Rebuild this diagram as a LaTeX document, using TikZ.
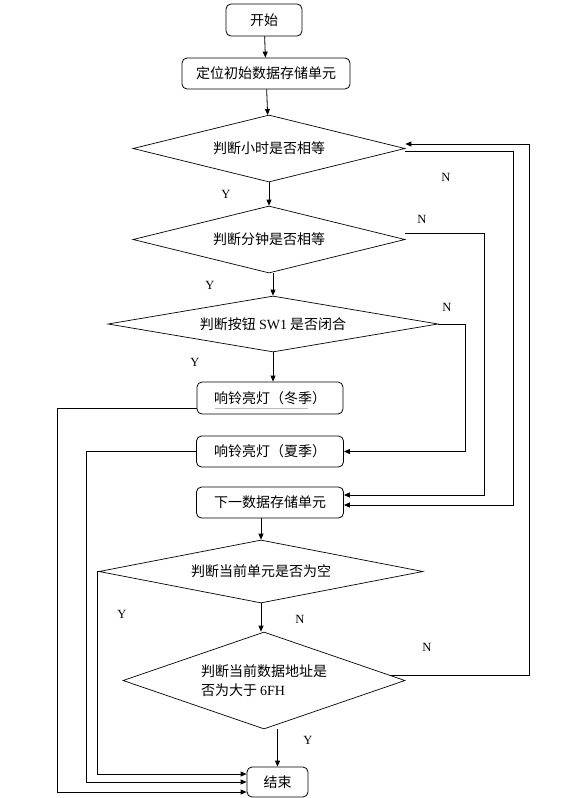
\documentclass[tikz,border=0pt]{standalone}
\usepackage{fontspec}
\setmainfont{Liberation Serif}
\newfontfamily\cjk{Noto Sans CJK SC}
\usetikzlibrary{shapes.geometric,arrows.meta,calc}
\begin{document}
\begin{tikzpicture}[x=1pt,y=-1pt,
  proc/.style={draw, line width=0.8pt, rounded corners=5pt, inner sep=0pt,
    font=\cjk\fontsize{14}{16}\selectfont},
  dec/.style={draw, diamond, aspect=4, inner sep=0pt, line width=0.7pt,
    font=\cjk\fontsize{14}{19}\selectfont},
  arr/.style={-{Triangle[length=6pt,width=5pt]}, line width=0.8pt},
  lab/.style={font=\fontsize{12.5}{14}\selectfont, inner sep=0pt}]
\useasboundingbox (0,0) rectangle (576,798);

% process boxes
\node[proc, minimum width=76pt, minimum height=32pt] (start) at (264,20) {开始};
\node[proc, minimum width=168pt, minimum height=31pt] (init) at (266,73.5) {定位初始数据存储单元};
\node[proc, minimum width=146pt, minimum height=32pt] (winter) at (270,398) {响铃亮灯（冬季）};
\node[proc, minimum width=147pt, minimum height=31pt] (summer) at (270,451.5) {响铃亮灯（夏季）};
\node[proc, minimum width=147pt, minimum height=31pt] (next) at (270,502.5) {下一数据存储单元};
\node[proc, minimum width=61pt, minimum height=30pt] (end) at (277.5,782) {结束};

% decisions
\node[dec, minimum width=272pt, minimum height=67pt] (d1) at (269,148.5) {判断小时是否相等};
\node[dec, minimum width=272pt, minimum height=67pt] (d2) at (269,239.5) {判断分钟是否相等};
\node[dec, minimum width=330pt, minimum height=56pt] (d3) at (273,324) {判断按钮 {\rmfamily SW1} 是否闭合};
\node[dec, minimum width=324pt, minimum height=63pt] (d4) at (261,571.5) {判断当前单元是否为空};
\node[dec, minimum width=282pt, minimum height=97pt, align=left] (d5) at (264,680.5)
  {判断当前数据地址是\\否为大于 {\rmfamily 6FH}};

% column positions
\coordinate (xa) at (465,0);
\coordinate (xb) at (484,0);
\coordinate (xc) at (513,0);
\coordinate (xd) at (529,0);
\coordinate (xl1) at (57,0);
\coordinate (xl2) at (86,0);
\coordinate (xl3) at (97,0);

% branch end points
\coordinate (s1) at ([yshift=-3pt]d1.east);
\coordinate (t1) at ([yshift=-2.5pt]next.east);
\coordinate (s2) at ([yshift=6.5pt]d2.east);
\coordinate (t2) at ([yshift=7.5pt]next.east);
\coordinate (s5) at ($(d5.north)!0.9!(d5.east)$);
\coordinate (t5) at ([yshift=4.5pt]d1.east);
\coordinate (sw) at ([yshift=-10pt]winter.west);
\coordinate (tw) at ([yshift=-10pt]end.west);
\coordinate (t4) at ([yshift=8pt]end.west);

% main flow
\draw[arr] (start) -- (init);
\draw[arr] (init) -- (d1);
\draw[arr] (d1.south) -- (d2.north);
\draw[arr] (d3.north |- d2.south) -- (d3.north);
\draw[arr] (d3.south) -- (d3.south |- winter.north);
\draw[arr] (d4.north |- next.south) -- (d4.north);
\draw[arr] (d4.south) -- (d4.south |- d5.north);
\draw[arr] (end.north |- d5.south) -- (end.north);

% N branches on the right
\draw[arr] (s1) -- (s1 -| xc) |- (t1);
\draw[arr] (s2) -- (s2 -| xb) |- (t2);
\draw[arr] (d3.east) -- (d3.east -| xa) |- (summer.east);
\draw[arr] (s5) -- (s5 -| xd) |- (t5);

% Y branches to end on the left
\draw[arr] (sw) -- (sw -| xl1) |- (tw);
\draw[arr] (summer.west) -- (summer.west -| xl2) |- (end.west);
\draw[arr] (d4.west) -- (d4.west -| xl3) |- (t4);

% faint underline
\draw[gray!55, line width=0.6pt] (215,408) -- (308,408);

% labels
\node[lab] (y1) at (226,194) {Y};
\node[lab] (n1) at (446,177) {N};
\node[lab] (n2) at (422,219) {N};
\node[lab] (y2) at (210,285) {Y};
\node[lab] (n3) at (447,307) {N};
\node[lab] (y3) at (195,362) {Y};
\node[lab] (y4) at (122,614) {Y};
\node[lab] (n4) at (300,619) {N};
\node[lab] (n5) at (427,647) {N};
\node[lab] (y5) at (308,740) {Y};
\end{tikzpicture}
\end{document}
